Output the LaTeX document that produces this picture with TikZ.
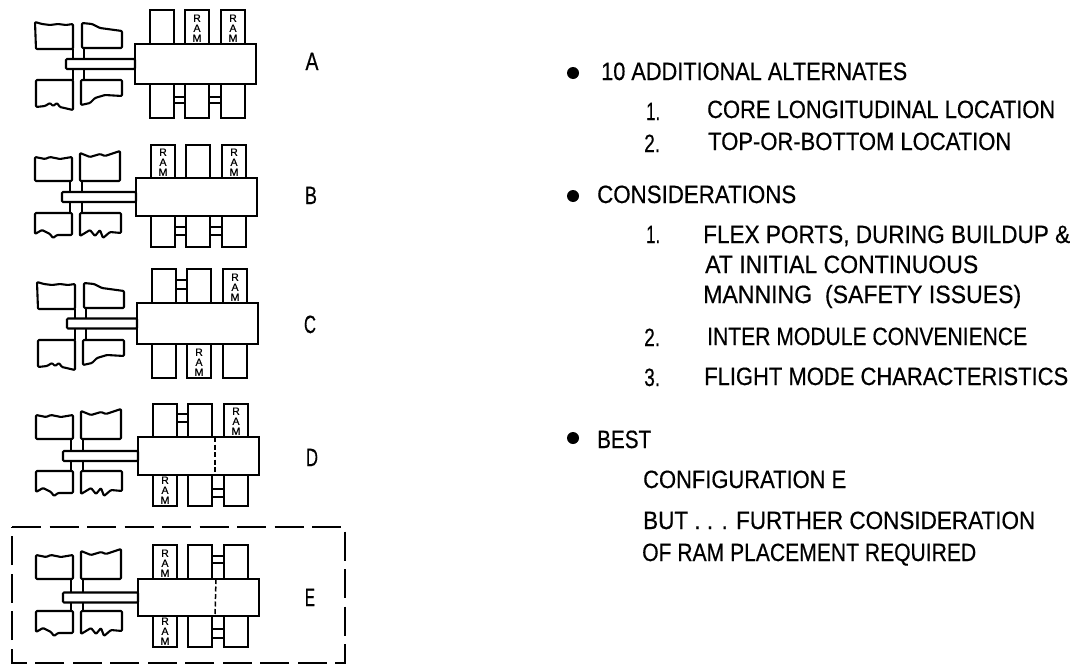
\documentclass[tikz,border=0pt]{standalone}
\usepackage{graphicx}
\usepackage{fontspec}
\setmainfont{Liberation Sans}
\newfontfamily\notefont[FakeBold=0.5]{Liberation Sans}
\newfontfamily\ramfont[FakeBold=0.6]{Liberation Sans}
\usetikzlibrary{positioning,calc}
\tikzset{
  panel/.style={draw=black, fill=white, line width=2.1pt, line join=round, rounded corners=1pt},
  module/.style={draw=black, fill=white, line width=2.1pt, inner sep=0pt, outer sep=0pt, minimum width=24pt},
  corebody/.style={draw=black, fill=white, line width=2.4pt, inner sep=0pt, outer sep=0pt, minimum width=121pt},
  stem/.style={draw=black, fill=white, line width=2.1pt, inner sep=0pt, outer sep=0pt, minimum height=10pt, rounded corners=1pt},
  mast/.style={draw=black, line width=2.1pt},
  tie/.style={draw=black, line width=1.7pt},
  partition/.style={draw=black, line width=1.5pt, dash pattern=on 5pt off 2.5pt},
  dashbox/.style={draw=black, line width=2.6pt, dash pattern=on 29pt off 8.5pt},
  ramtag/.style={inner sep=0pt, align=center, font=\ramfont\fontsize{10.5}{10}\selectfont},
  lbl/.style={inner sep=0pt, anchor=base west, font=\notefont\fontsize{25}{25}\selectfont},
  bullet/.style={circle, fill=black, inner sep=0pt, minimum size=12pt},
}
\newcommand{\fitline}[2]{\resizebox{#1pt}{\height}{#2}}
% arrays with the rounded upper right panel
\newcommand{\arrayround}[3]{
\begin{scope}[shift={(#2,#3)}]
\draw[panel] (35,22) -- (42,24) -- (50,25) -- (58,24) -- (66,25) -- (73,24) -- (73,49) -- (36,49) -- cycle;
\draw[panel] (82,23) -- (92,24) -- (100,28) -- (122,31) -- (122,48) -- (82,48) -- cycle;
\draw[panel] (36,80) -- (73,80) -- (73,110) -- (60,107) -- (57,103) -- (53,106) -- (50,103) -- (45,106) -- (36,107) -- cycle;
\draw[panel] (81,80) -- (122,80) -- (122,96) -- (105,95) -- (95,98) -- (90,103) -- (81,105) -- cycle;
\coordinate (#1-m1t) at (73,49);
\coordinate (#1-m1b) at (73,80);
\coordinate (#1-m2t) at (84,48);
\coordinate (#1-m2b) at (84,80);
\end{scope}
\draw[mast] (#1-m1t) -- (#1-m1b);
\draw[mast] (#1-m2t) -- (#1-m2b);
}
% arrays with the torn lower edges
\newcommand{\arraytorn}[3]{
\begin{scope}[shift={(#2,#3)}]
\draw[panel] (35,157) -- (45,159) -- (50,157) -- (60,159) -- (72,157) -- (72,181) -- (35,181) -- cycle;
\draw[panel] (80,153) -- (90,157) -- (100,154) -- (105,156) -- (120,151) -- (120,181) -- (80,181) -- cycle;
\draw[panel] (35,213) -- (72,213) -- (72,235) -- (57,235) -- (53,238) -- (50,234) -- (42,230) -- (35,234) -- cycle;
\draw[panel] (80,213) -- (121,213) -- (121,233) -- (110,232) -- (103,238) -- (100,230) -- (95,236) -- (90,230) -- (80,236) -- cycle;
\coordinate (#1-m1t) at (70,181);
\coordinate (#1-m1b) at (70,213);
\coordinate (#1-m2t) at (82,181);
\coordinate (#1-m2b) at (82,213);
\end{scope}
\draw[mast] (#1-m1t) -- (#1-m1b);
\draw[mast] (#1-m2t) -- (#1-m2b);
}
% name, left of core, core top, core bottom, modules top, modules bottom, stem length
\newcommand{\station}[7]{
\foreach \i/\o in {1/15,2/50,3/86} {
  \node[module, anchor=south west, minimum height={(#3-#5)*1pt}] (#1-t\i) at (#2+\o,#3) {};
  \node[module, anchor=north west, minimum height={(#6-#4)*1pt}] (#1-b\i) at (#2+\o,#4) {};
}
\node[corebody, anchor=north west, minimum height={(#4-#3)*1pt}] (#1-core) at (#2,#3) {};
\node[stem, left=0pt of #1-core, minimum width=#7pt] (#1-stem) {};
}
\newcommand{\ramtag}[1]{\node[ramtag, above=2pt of #1.south] (#1-ram) {R\\A\\M};}
\newcommand{\ties}[3]{
\draw[tie] (#1.east |- 0,#3) -- (#2.west |- 0,#3);
}
\begin{document}
\begin{tikzpicture}[x=1pt, y=-1pt]
\useasboundingbox (0,0) rectangle (1076,664);
% five alternates
\arrayround{A}{0}{0}
\arraytorn{B}{0}{0}
\arrayround{C}{2}{260}
\arraytorn{D}{1}{258}
\arraytorn{E}{1}{398}
\station{A}{135}{44}{84}{10}{118}{69}
\station{B}{136}{178}{216}{145}{247}{74}
\station{C}{137}{303}{344}{269}{378}{70}
\station{D}{138}{437}{475}{404}{506}{75}
\station{E}{138}{579}{616}{545}{647}{75}
\ramtag{A-t2} \ramtag{A-t3}
\ramtag{B-t1} \ramtag{B-t3}
\ramtag{C-t3} \ramtag{C-b2}
\ramtag{D-t3} \ramtag{D-b1}
\ramtag{E-t1} \ramtag{E-b1}
\foreach \y in {97,103} {\ties{A-b1}{A-b2}{\y} \ties{A-b2}{A-b3}{\y}}
\foreach \y in {227,235} {\ties{B-b1}{B-b2}{\y} \ties{B-b2}{B-b3}{\y}}
\foreach \y in {280,289} {\ties{C-t1}{C-t2}{\y}}
\foreach \y in {414,422} {\ties{D-t1}{D-t2}{\y}}
\foreach \y in {489,497} {\ties{D-b2}{D-b3}{\y}}
\foreach \y in {556,563} {\ties{E-t2}{E-t3}{\y}}
\foreach \y in {629,638} {\ties{E-b2}{E-b3}{\y}}
\draw[partition] (D-core.north -| 215,0) -- (D-core.south -| 215,0);
\draw[partition] (E-core.north -| 216,0) -- (E-core.south -| 215,0);
\draw[dashbox] (12,527) -- (345,527) -- (345,663) -- (12,663) -- cycle;
% letters
\node[lbl, anchor=base] (nameA) at (312,70) {\fitline{13}{A}};
\node[lbl, anchor=base] (nameB) at (311,204) {\fitline{12}{B}};
\node[lbl, anchor=base] (nameC) at (310,333) {\fitline{12}{C}};
\node[lbl, anchor=base] (nameD) at (312,466) {\fitline{12}{D}};
\node[lbl, anchor=base] (nameE) at (310,606) {\fitline{10}{E}};
% notes
\node[bullet] (dotone) at (573,73) {};
\node[bullet] (dottwo) at (573,196) {};
\node[bullet] (dotthree) at (573,438) {};
\node[lbl] (alt) at (601,80) {\fitline{306}{10 ADDITIONAL ALTERNATES}};
\node[lbl] (altnumone) at (646,120) {\fitline{14}{1.}};
\node[lbl] (altone) at (707,118) {\fitline{348}{CORE LONGITUDINAL LOCATION}};
\node[lbl] (altnumtwo) at (644,152) {\fitline{16}{2.}};
\node[lbl] (alttwo) at (708,150) {\fitline{303}{TOP-OR-BOTTOM LOCATION}};
\node[lbl] (cons) at (597,203) {\fitline{199}{CONSIDERATIONS}};
\node[lbl] (consnumone) at (646,243) {\fitline{14}{1.}};
\node[lbl] (consone) at (703,243) {\fitline{367}{FLEX PORTS, DURING BUILDUP \&}};
\node[lbl] (consonea) at (705,273) {\fitline{273}{AT INITIAL CONTINUOUS}};
\node[lbl] (consoneb) at (703,303) {\fitline{318}{MANNING\ \ (SAFETY ISSUES)}};
\node[lbl] (consnumtwo) at (644,346) {\fitline{16}{2.}};
\node[lbl] (constwo) at (707,345) {\fitline{320}{INTER MODULE CONVENIENCE}};
\node[lbl] (consnumthree) at (644,386) {\fitline{16}{3.}};
\node[lbl] (consthree) at (704,385) {\fitline{364}{FLIGHT MODE CHARACTERISTICS}};
\node[lbl] (best) at (597,448) {\fitline{54}{BEST}};
\node[lbl] (bestone) at (643,488) {\fitline{203}{CONFIGURATION E}};
\node[lbl] (besttwo) at (643,529) {\fitline{392}{BUT . . . FURTHER CONSIDERATION}};
\node[lbl] (bestthree) at (642,561) {\fitline{334}{OF RAM PLACEMENT REQUIRED}};
\end{tikzpicture}
\end{document}
